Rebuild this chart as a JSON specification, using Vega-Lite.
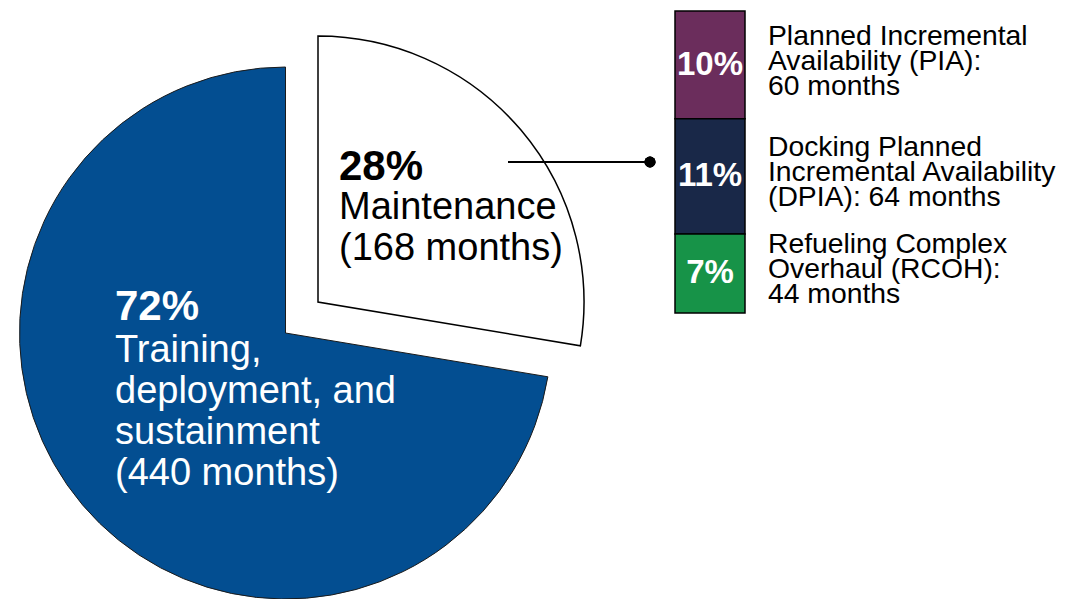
{
  "$schema": "https://vega.github.io/schema/vega-lite/v6.json",
  "background": "white",
  "padding": {"left": 0, "top": 10, "right": 0, "bottom": 0},
  "bounds": "flush",
  "spacing": 104,
  "config": {"view": {"stroke": null}, "text": {"font": "Liberation Sans"}},
  "datasets": {
    "life": [
      {"part": "Maintenance", "months": 168, "pct": "28%", "desc": "Maintenance\n(168 months)"},
      {"part": "Training, deployment, and sustainment", "months": 440, "pct": "72%", "desc": "Training,\ndeployment, and\nsustainment\n(440 months)"}
    ],
    "maint": [
      {"phase": "PIA", "seq": 1, "months": 60, "pct": "10%", "label": "Planned Incremental\nAvailability (PIA):\n60 months"},
      {"phase": "DPIA", "seq": 2, "months": 64, "pct": "11%", "label": "Docking Planned\nIncremental Availability\n(DPIA): 64 months"},
      {"phase": "RCOH", "seq": 3, "months": 44, "pct": "7%", "label": "Refueling Complex\nOverhaul (RCOH):\n44 months"}
    ]
  },
  "hconcat": [
    {
      "width": 571,
      "height": 582,
      "data": {"name": "life"},
      "layer": [
        {
          "mark": {"type": "arc", "outerRadius": 266, "yOffset": 31, "strokeWidth": 1},
          "encoding": {
            "theta": {"field": "months", "type": "quantitative", "stack": true},
            "order": {"field": "months", "sort": "ascending"},
            "fill": {"condition": {"test": "datum.part === 'Maintenance'", "value": "transparent"}, "value": "#034E91"},
            "stroke": {"condition": {"test": "datum.part === 'Maintenance'", "value": "transparent"}, "value": "#1b1b1b"}
          }
        },
        {
          "mark": {"type": "arc", "outerRadius": 266, "xOffset": 32.5, "strokeWidth": 1.5},
          "encoding": {
            "theta": {"field": "months", "type": "quantitative", "stack": true},
            "order": {"field": "months", "sort": "ascending"},
            "fill": {"condition": {"test": "datum.part === 'Maintenance'", "value": "white"}, "value": "transparent"},
            "stroke": {"condition": {"test": "datum.part === 'Maintenance'", "value": "black"}, "value": "transparent"}
          }
        },
        {
          "transform": [{"filter": "datum.part !== 'Maintenance'"}],
          "mark": {"type": "text", "align": "left", "baseline": "top", "dx": -170.5, "dy": -15, "fontSize": 42, "fontWeight": "bold", "fill": "white"},
          "encoding": {"text": {"field": "pct"}}
        },
        {
          "transform": [{"filter": "datum.part !== 'Maintenance'"}],
          "mark": {"type": "text", "align": "left", "baseline": "top", "dx": -170.5, "dy": 30, "fontSize": 38, "lineHeight": 41, "lineBreak": "\n", "fill": "white"},
          "encoding": {"text": {"field": "desc"}}
        },
        {
          "transform": [{"filter": "datum.part === 'Maintenance'"}],
          "mark": {"type": "text", "align": "left", "baseline": "top", "dx": 53.5, "dy": -155, "fontSize": 42, "fontWeight": "bold", "fill": "black"},
          "encoding": {"text": {"field": "pct"}}
        },
        {
          "transform": [{"filter": "datum.part === 'Maintenance'"}],
          "mark": {"type": "text", "align": "left", "baseline": "top", "dx": 53.5, "dy": -113, "fontSize": 38, "lineHeight": 41, "lineBreak": "\n", "fill": "black"},
          "encoding": {"text": {"field": "desc"}}
        }
      ]
    },
    {
      "width": 70,
      "height": 302,
      "data": {"name": "maint"},
      "layer": [
        {
          "mark": {"type": "bar", "width": 70, "stroke": "black", "strokeWidth": 1.5},
          "encoding": {
            "y": {"field": "months", "type": "quantitative", "stack": "zero", "scale": {"nice": false}, "axis": null},
            "order": {"field": "seq", "sort": "descending"},
            "color": {"field": "phase", "type": "nominal", "scale": {"domain": ["PIA", "DPIA", "RCOH"], "range": ["#6B2D5C", "#192848", "#179348"]}, "legend": null}
          }
        },
        {
          "mark": {"type": "text", "align": "center", "baseline": "middle", "fontSize": 33, "fontWeight": "bold", "fill": "white"},
          "encoding": {
            "y": {"field": "months", "type": "quantitative", "stack": "zero", "bandPosition": 0.5},
            "order": {"field": "seq", "sort": "descending"},
            "text": {"field": "pct"}
          }
        },
        {
          "mark": {"type": "text", "align": "left", "baseline": "middle", "x": "width", "dx": 23, "dy": -28, "fontSize": 28.3, "lineHeight": 25, "lineBreak": "\n", "fill": "black"},
          "encoding": {
            "y": {"field": "months", "type": "quantitative", "stack": "zero", "bandPosition": 0.5},
            "order": {"field": "seq", "sort": "descending"},
            "text": {"field": "label"}
          }
        },
        {
          "mark": {"type": "rule", "stroke": "black", "strokeWidth": 2},
          "encoding": {
            "y": {"datum": 84, "type": "quantitative"},
            "x": {"value": -167},
            "x2": {"value": -25}
          }
        },
        {
          "mark": {"type": "point", "filled": true, "fill": "black", "opacity": 1, "size": 120, "shape": "circle"},
          "encoding": {
            "y": {"datum": 84, "type": "quantitative"},
            "x": {"value": -25}
          }
        }
      ]
    }
  ]
}
